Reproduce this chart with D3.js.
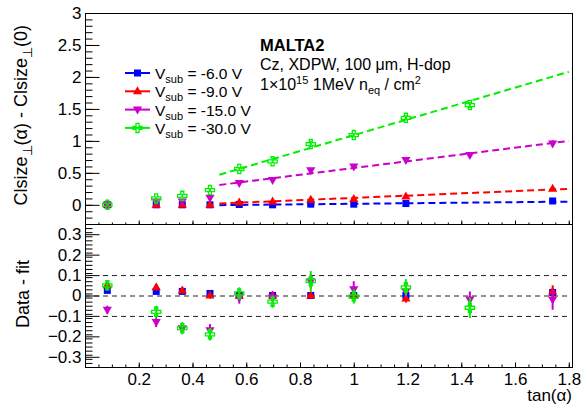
<!DOCTYPE html>
<html>
<head>
  <meta charset="utf-8">
  <script src="https://cdnjs.cloudflare.com/ajax/libs/d3/7.8.5/d3.min.js"></script>
  <style>
    body { margin: 0; background: #fff; }
    text { font-family: "Liberation Sans", Arial, sans-serif; fill: #000; }
    .frame { fill: none; stroke: #000; stroke-width: 1; }
    .axis path, .axis line { stroke: #000; stroke-width: 1; }
  </style>
</head>
<body>
  <div id="graph"></div>
  <script>
    // tan(alpha) of the measured points
    const tanAlpha = [0.083, 0.265, 0.362, 0.465, 0.574, 0.698, 0.840, 1.0, 1.194, 1.432, 1.740];

    // Clsize(alpha) - Clsize(0), per substrate voltage
    const v6  = [0.00, 0.00, 0.00, 0.00, 0.005, 0.00, 0.01, 0.01, 0.02, null, 0.06];
    const v9  = [0.00, 0.00, 0.00, 0.00, 0.035, 0.05, 0.08, 0.09, 0.13, null, 0.25];
    const v15 = [0.00, 0.05, 0.05, 0.11, 0.34, 0.39, 0.54, 0.60, 0.70, 0.78, 0.96];
    const v30 = [0.00, 0.10, 0.14, 0.23, 0.56, 0.68, 0.95, 1.09, 1.36, 1.56, null];

    // uncertainties
    const e6  = [0.01, 0.01, 0.01, 0.01, 0.01, 0.01, 0.01, 0.01, 0.01, null, 0.015];
    const e9  = [0.015, 0.015, 0.015, 0.015, 0.015, 0.015, 0.015, 0.02, 0.02, null, 0.03];
    const e15 = [0.02, 0.025, 0.02, 0.03, 0.03, 0.03, 0.035, 0.04, 0.03, 0.04, 0.05];
    const e30 = [0.025, 0.03, 0.03, 0.03, 0.03, 0.03, 0.05, 0.035, 0.04, 0.05, null];

    // data - fit residuals
    const r6  = [0.025, 0.02, 0.02, 0.01, 0.00, 0.00, 0.00, 0.00, 0.00, null, 0.015];
    const r9  = [0.05, 0.04, 0.025, 0.00, 0.00, 0.00, 0.00, 0.00, -0.015, null, 0.02];
    const r15 = [-0.07, -0.13, -0.16, -0.17, -0.01, -0.01, 0.07, 0.03, 0.02, -0.02, -0.02];
    const r30 = [0.05, -0.08, -0.16, -0.19, 0.01, -0.03, 0.07, -0.005, 0.04, -0.06, null];

    // linear fits: [x, y] at start and end of the fit range
    const fit6  = [[0.5, -0.005], [1.8, 0.05]];
    const fit9  = [[0.5, 0.02], [1.8, 0.25]];
    const fit15 = [[0.5, 0.31], [1.8, 1.00]];
    const fit30 = [[0.5, 0.47], [1.8, 2.08]];

    const labels = ["-6.0 V", "-9.0 V", "-15.0 V", "-30.0 V"];
    const colors = ["#0000ff", "#ff0000", "#cc00cc", "#00f000"];
    const markers = ["square", "triUp", "triDown", "openCross"];

    const xMajor = [0.2, 0.4, 0.6, 0.8, 1.0, 1.2, 1.4, 1.6, 1.8];
    const topMajor = [0, 0.5, 1, 1.5, 2, 2.5, 3];
    const botMajor = [-0.3, -0.2, -0.1, 0, 0.1, 0.2, 0.3];
    const refLines = [-0.1, 0, 0.1];

    const series = [
      {vals: v6, errs: e6, res: r6, fit: fit6},
      {vals: v9, errs: e9, res: r9, fit: fit9},
      {vals: v15, errs: e15, res: r15, fit: fit15},
      {vals: v30, errs: e30, res: r30, fit: fit30}
    ];

    const W = 582, H = 407;
    const left = 85, right = 572;
    const topY0 = 13, topY1 = 224, botY1 = 367;

    const svg = d3.select("#graph").append("svg")
      .attr("width", W).attr("height", H);
    svg.append("rect").attr("width", W).attr("height", H).attr("fill", "#fff");

    const x = d3.scaleLinear().domain([0, 1.812]).range([left, right]);
    const yTop = d3.scaleLinear().domain([-0.3, 3]).range([topY1, topY0]);
    const yBot = d3.scaleLinear().domain([-0.35, 0.35]).range([botY1, topY1]);

    const fmt = d3.format("~g");

    function markerPath(type) {
      if (type === "square") return "M-3.5,-3.5H3.5V3.5H-3.5Z";
      if (type === "triUp") return "M0,-5L4.6,3H-4.6Z";
      if (type === "triDown") return "M0,5L4.6,-3H-4.6Z";
      // open cross
      const a = 4.6, t = 1.5;
      return `M${-t},${-a}H${t}V${-t}H${a}V${t}H${t}V${a}H${-t}V${t}H${-a}V${-t}H${-t}Z`;
    }

    function drawMarker(g, type, color, cx, cy) {
      const p = g.append("path")
        .attr("d", markerPath(type))
        .attr("transform", `translate(${cx},${cy})`);
      if (type === "openCross") {
        p.attr("fill", "none").attr("stroke", color).attr("stroke-width", 1.3);
      } else {
        p.attr("fill", color);
      }
    }

    function drawAxes(y, y0, y1, major, minorStep, yMajorLen, yMinorLen, xMajorLen, xMinorLen, labelX) {
      const g = svg.append("g");
      // y ticks
      const yMinor = d3.range(y.domain()[0], y.domain()[1] + 1e-9, minorStep)
        .map(v => Math.round(v * 1000) / 1000);
      g.append("g").attr("class", "axis")
        .attr("transform", `translate(${left + 0.5},0)`)
        .call(d3.axisLeft(y).tickValues(yMinor).tickSize(-yMinorLen).tickSizeOuter(0).tickFormat(""));
      const ya = g.append("g").attr("class", "axis")
        .attr("transform", `translate(${left + 0.5},0)`)
        .call(d3.axisLeft(y).tickValues(major).tickSize(-yMajorLen).tickSizeOuter(0)
          .tickPadding(4).tickFormat(fmt));
      ya.selectAll("text").style("font-size", "17px").attr("font-family", null);
      // x ticks
      const xMinor = d3.range(0.05, 1.81, 0.05);
      g.append("g").attr("class", "axis")
        .attr("transform", `translate(0,${y1 + 0.5})`)
        .call(d3.axisBottom(x).tickValues(xMinor).tickSize(-xMinorLen).tickSizeOuter(0).tickFormat(""));
      const xa = g.append("g").attr("class", "axis")
        .attr("transform", `translate(0,${y1 + 0.5})`)
        .call(d3.axisBottom(x).tickValues(xMajor).tickSize(-xMajorLen).tickSizeOuter(0)
          .tickPadding(5).tickFormat(labelX ? fmt : ""));
      xa.selectAll("text").style("font-size", "17px").attr("font-family", null);
      g.selectAll(".domain").remove();
      // frame
      svg.append("rect").attr("class", "frame")
        .attr("x", left + 0.5).attr("y", y0 + 0.5)
        .attr("width", right - left).attr("height", y1 - y0);
    }

    drawAxes(yTop, topY0, topY1, topMajor, 0.1, 14, 7, 4, 2, false);
    drawAxes(yBot, topY1, botY1, botMajor, 0.02, 14, 7, 5, 3, true);

    // fit lines (top)
    const fitLine = d3.line().x(d => x(d[0])).y(d => yTop(d[1]));
    series.forEach((s, i) => {
      svg.append("path")
        .attr("d", fitLine(s.fit))
        .attr("fill", "none")
        .attr("stroke", colors[i])
        .attr("stroke-width", 2)
        .attr("stroke-dasharray", "7,4");
    });

    // reference lines (bottom)
    refLines.forEach(v => {
      svg.append("line")
        .attr("x1", x(0)).attr("x2", x(1.8))
        .attr("y1", yBot(v) + 0.5).attr("y2", yBot(v) + 0.5)
        .attr("stroke", "#222").attr("stroke-width", 1)
        .attr("stroke-dasharray", "5,4");
    });

    // points with error bars
    function drawPoints(y, key) {
      series.forEach((s, i) => {
        const g = svg.append("g");
        s[key].forEach((v, j) => {
          if (v === null) return;
          const cx = x(tanAlpha[j]);
          const err = s.errs[j];
          g.append("line")
            .attr("x1", cx).attr("x2", cx)
            .attr("y1", y(v - err)).attr("y2", y(v + err))
            .attr("stroke", colors[i]).attr("stroke-width", 2);
          drawMarker(g, markers[i], colors[i], cx, y(v));
        });
      });
    }
    drawPoints(yTop, "vals");
    drawPoints(yBot, "res");

    // legend
    const legend = svg.append("g");
    labels.forEach((lab, i) => {
      const cy = 73 + i * 18.3;
      legend.append("line")
        .attr("x1", 125).attr("x2", 150)
        .attr("y1", cy).attr("y2", cy)
        .attr("stroke", colors[i]).attr("stroke-width", 2);
      drawMarker(legend, markers[i], colors[i], 137.5, cy);
      const t = legend.append("text")
        .attr("x", 155).attr("y", cy + 6)
        .style("font-size", "15.5px");
      t.append("tspan").text("V");
      t.append("tspan").attr("dy", 4).style("font-size", "11px").text("sub");
      t.append("tspan").attr("dy", -4).text(" = " + lab);
    });

    // annotation
    svg.append("text")
      .attr("x", 260).attr("y", 51)
      .style("font-size", "16.5px").style("font-weight", "bold")
      .text("MALTA2");
    svg.append("text")
      .attr("x", 260).attr("y", 70)
      .style("font-size", "16px")
      .text("Cz, XDPW, 100 \u03bcm, H-dop");
    const fl = svg.append("text")
      .attr("x", 260).attr("y", 89.5)
      .style("font-size", "16px");
    fl.append("tspan").text("1\u00d710");
    fl.append("tspan").attr("dy", -6).style("font-size", "11px").text("15");
    fl.append("tspan").attr("dy", 6).text(" 1MeV n");
    fl.append("tspan").attr("dy", 4).style("font-size", "11px").text("eq");
    fl.append("tspan").attr("dy", -4).text(" / cm");
    fl.append("tspan").attr("dy", -6).style("font-size", "11px").text("2");

    // axis titles
    const yt = svg.append("text")
      .attr("transform", "translate(27,25) rotate(-90)")
      .style("font-size", "18px")
      .style("text-anchor", "end");
    yt.append("tspan").text("Clsize");
    yt.append("tspan").attr("dy", 5).style("font-size", "13px").text("\u22a5");
    yt.append("tspan").attr("dy", -5).text("(\u03b1) - Clsize");
    yt.append("tspan").attr("dy", 5).style("font-size", "13px").text("\u22a5");
    yt.append("tspan").attr("dy", -5).text("(0)");

    svg.append("text")
      .attr("transform", "translate(28.5,294) rotate(-90)")
      .style("font-size", "18px")
      .style("text-anchor", "middle")
      .text("Data - fit");

    svg.append("text")
      .attr("x", 572).attr("y", 401)
      .style("font-size", "17px")
      .style("text-anchor", "end")
      .text("tan(\u03b1)");
  </script>
</body>
</html>
